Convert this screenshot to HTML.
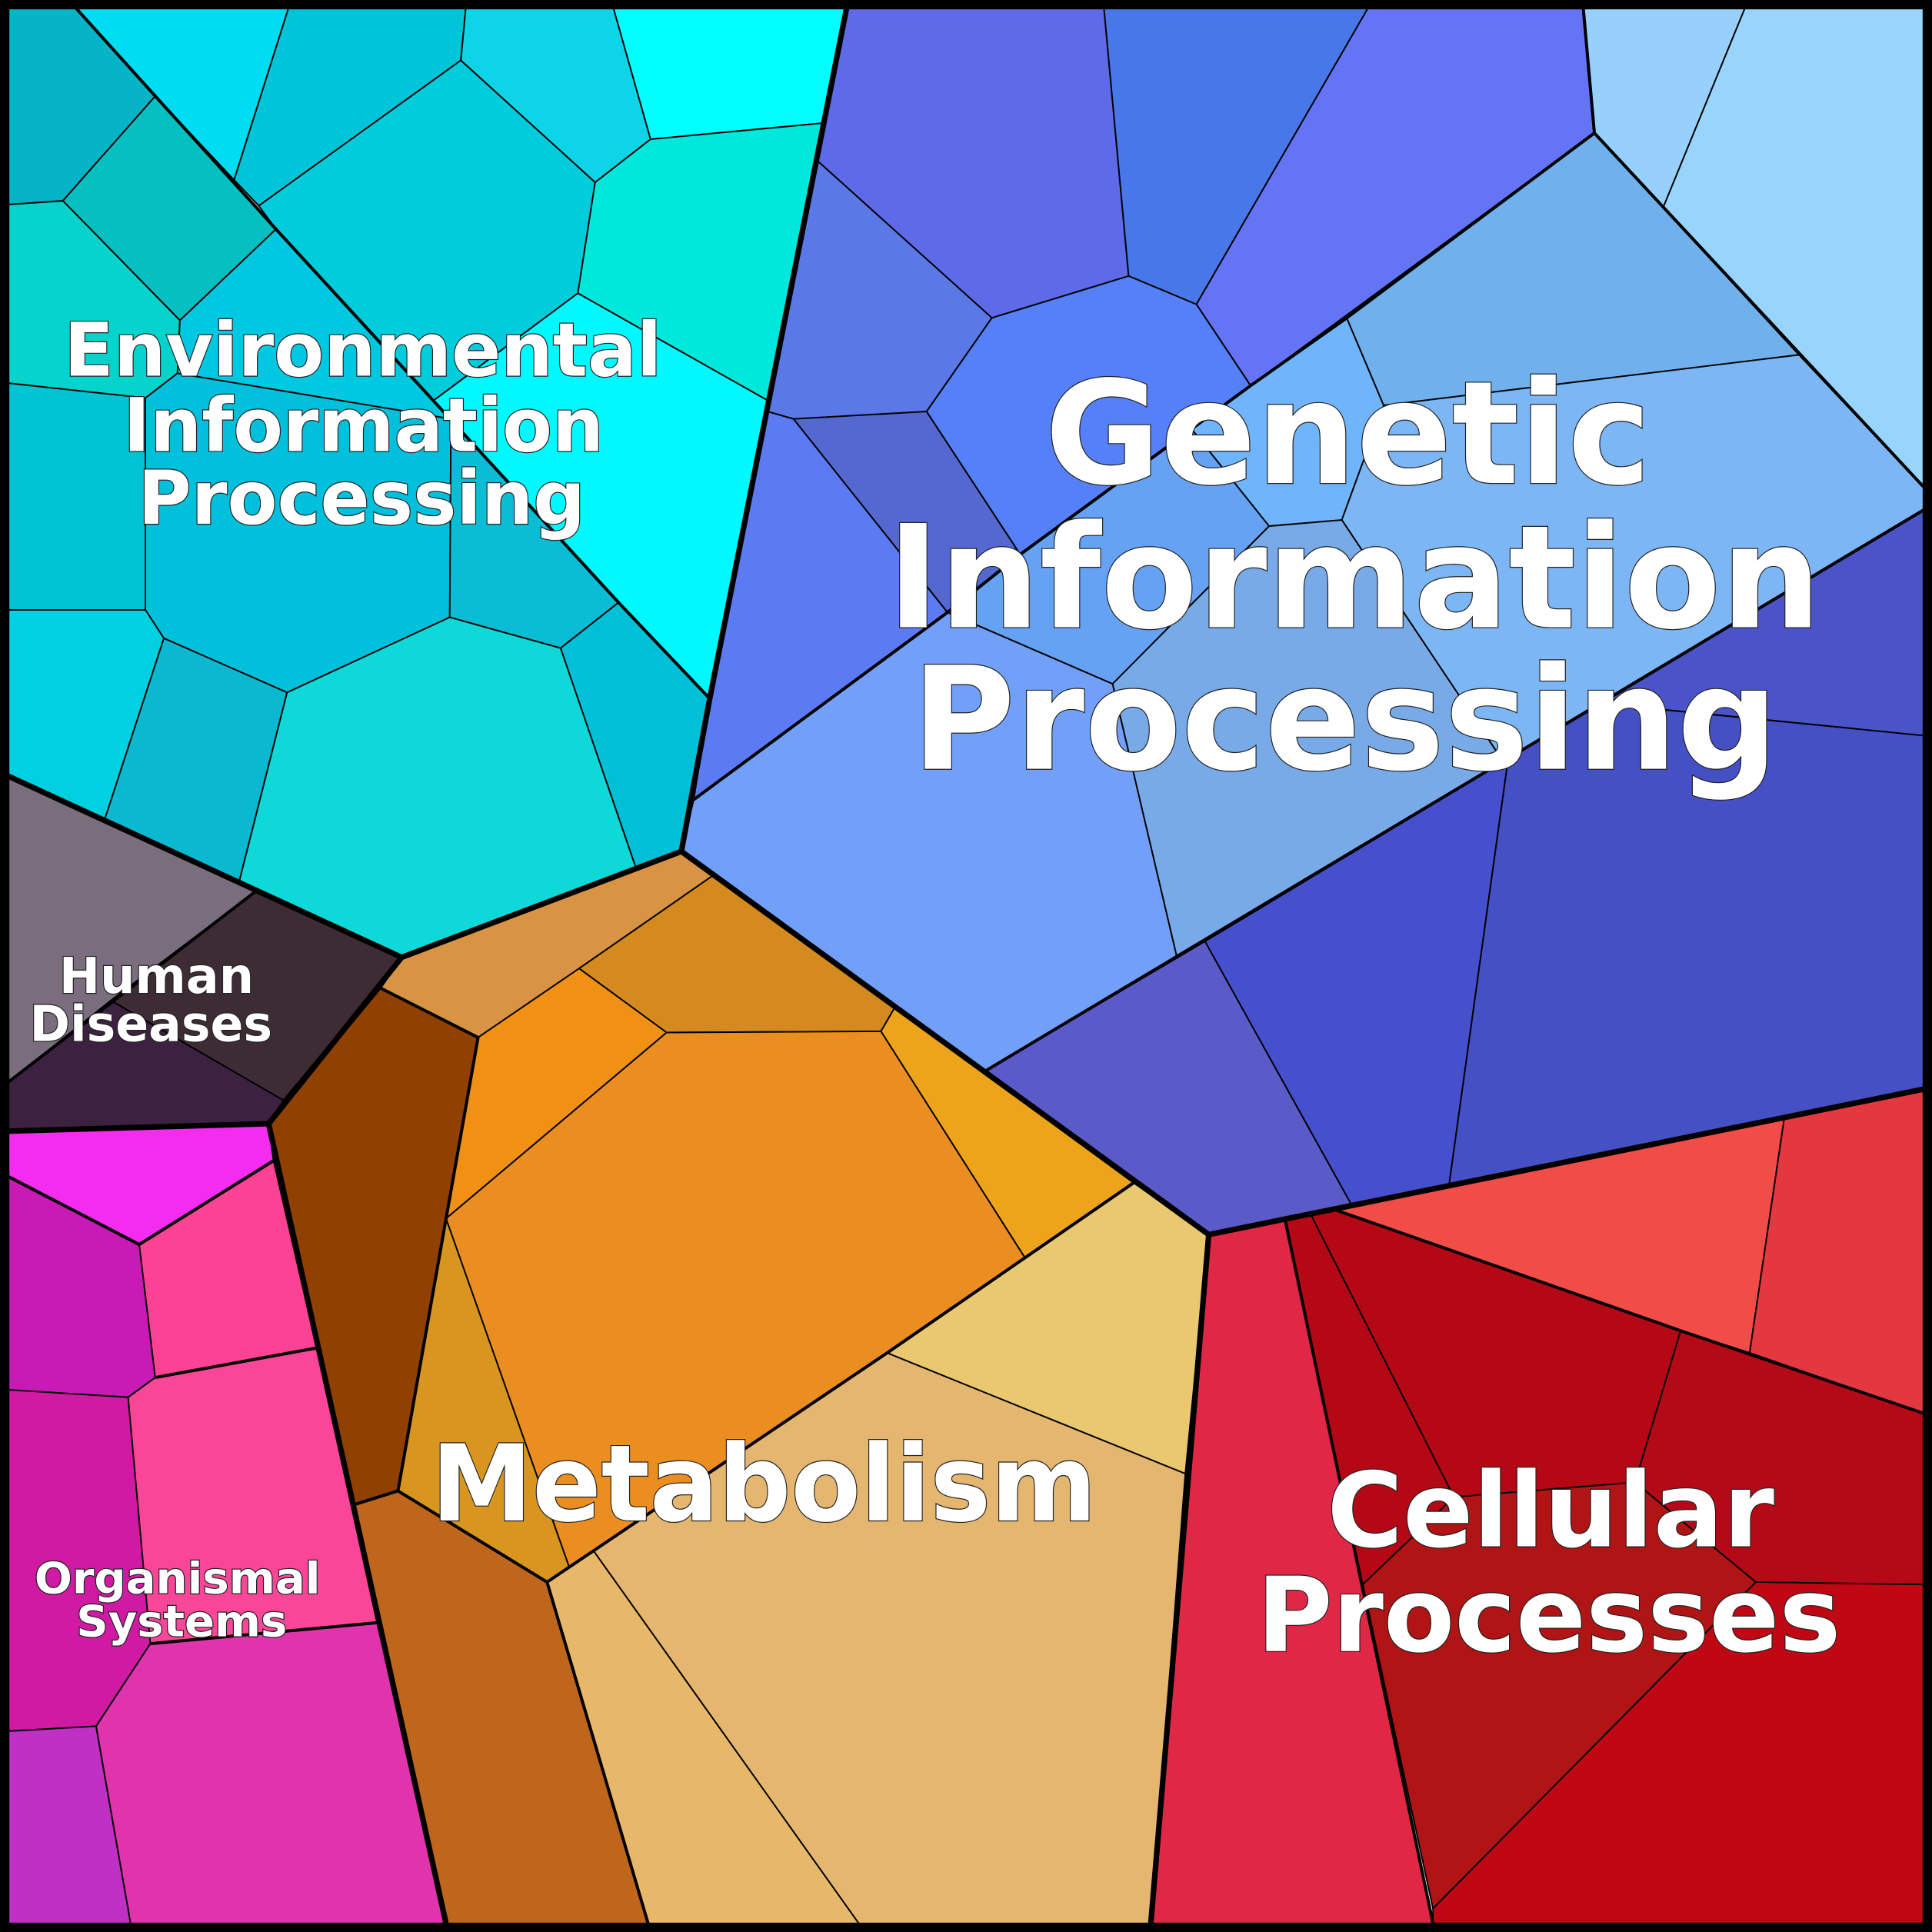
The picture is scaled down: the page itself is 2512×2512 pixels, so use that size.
<!DOCTYPE html>
<html><head><meta charset="utf-8"><style>html,body{margin:0;padding:0;background:#fff}svg{display:block}</style></head>
<body>
<svg width="2512" height="2512" viewBox="0 0 1568 1568" xmlns="http://www.w3.org/2000/svg">
<g stroke="#000" stroke-width="1.2" stroke-linejoin="round">
<!-- Environmental -->
<polygon fill="#06b4c8" points="7,7 62,7 126,78 51,163 7,166"/>
<polygon fill="#05bfc0" points="51,163 126,78 224,186 146,260"/>
<polygon fill="#06d4cc" points="7,166 51,163 146,260 144,303 118,323 7,311"/>
<polygon fill="#00dcf2" points="62,7 234,7 190,146 126,78"/>
<polygon fill="#00c4d8" points="234,7 378,7 374,49 210,167 190,146"/>
<polygon fill="#0ed4e8" points="378,7 498,7 528,113 483,148 374,49"/>
<polygon fill="#00ffff" points="498,7 687,7 667,100 528,113"/>
<polygon fill="#00ccdc" points="210,167 374,49 483,148 469,238 352,325 224,186"/>
<polygon fill="#00e8dc" points="528,113 667,100 623,325 469,238 483,148"/>
<polygon fill="#00f8ff" points="469,238 623,325 576,567 502,489 352,325"/>
<polygon fill="#00c8e0" points="146,260 224,186 366,340 144,303"/>
<polygon fill="#00c0dc" points="118,323 144,303 366,340 365,501 233,562 133,518 118,495"/>
<polygon fill="#00c4d4" points="7,311 118,323 118,495 7,495"/>
<polygon fill="#0abcd4" points="366,340 502,489 455,526 365,501"/>
<polygon fill="#00d0e0" points="7,495 118,495 133,518 85,665 7,630"/>
<polygon fill="#0ab8d0" points="133,518 233,562 194,716 85,665"/>
<polygon fill="#0ed8d8" points="233,562 365,501 455,526 516,704 326,777 194,716"/>
<polygon fill="#00c0d8" points="455,526 502,489 576,567 553,691 516,704"/>
<!-- Genetic -->
<polygon fill="#5e6ae8" points="687,7 896,7 916,224 805,258 664,131"/>
<polygon fill="#4878e8" points="896,7 1110,7 971,247 916,224"/>
<polygon fill="#6474f4" points="1110,7 1285,7 1294,108 1015,313 971,247"/>
<polygon fill="#5a78e6" points="664,131 805,258 752,334 644,340 623,334"/>
<polygon fill="#5580f8" points="805,258 916,224 971,247 1015,313 828,450 752,334"/>
<polygon fill="#5c7af2" points="623,334 644,340 769,497 563,649 576,567"/>
<polygon fill="#5468d0" points="644,340 752,334 828,450 769,497"/>
<polygon fill="#72a0f8" points="563,649 769,497 903,555 955,776 800,869 553,691"/>
<polygon fill="#66a2f4" points="828,450 967,348 1030,427 903,555 769,497"/>
<polygon fill="#70b4fc" points="967,348 1015,313 1093,258 1123,329 1089,422 1030,427"/>
<polygon fill="#70b0ec" points="1093,258 1294,108 1460,288 1123,329"/>
<polygon fill="#98d0fc" points="1285,7 1416,7 1350,168 1294,108"/>
<polygon fill="#98d4fc" points="1416,7 1561,7 1561,395 1350,168"/>
<polygon fill="#7cb6f4" points="1123,329 1460,288 1561,395 1561,414 1220,618 1089,422"/>
<polygon fill="#78aae8" points="1030,427 1089,422 1220,618 955,776 903,555"/>
<polygon fill="#5a5ac8" points="800,869 978,764 1097,978 981,1002"/>
<polygon fill="#4650cc" points="978,764 1224,616 1176,962 1097,978"/>
<polygon fill="#4a54c8" points="1300,571 1561,414 1561,597"/>
<polygon fill="#4450c4" points="1224,616 1300,571 1561,597 1561,884 1176,962"/>
<!-- Human diseases -->
<polygon fill="#7a6e7e" points="7,630 208,723 90,812 7,878"/>
<polygon fill="#3e2c34" points="208,723 326,777 230,893 90,812"/>
<polygon fill="#3c2240" points="7,878 90,812 230,893 218,912 7,918"/>
<!-- Organismal -->
<polygon fill="#f42cf0" points="7,918 218,912 222,942 113,1010 7,955"/>
<polygon fill="#c81ab4" points="7,955 113,1010 126,1118 104,1134 7,1128"/>
<polygon fill="#fc4294" points="113,1010 222,942 257,1094 126,1118"/>
<polygon fill="#d01aa4" points="7,1128 104,1134 122,1334 78,1401 7,1405"/>
<polygon fill="#fa4698" points="104,1134 126,1118 257,1094 306,1317 122,1334"/>
<polygon fill="#c030c4" points="7,1405 78,1401 106,1561 7,1561"/>
<polygon fill="#e034ac" points="78,1401 122,1334 306,1317 362,1561 106,1561"/>
<!-- Metabolism -->
<polygon fill="#d89444" points="326,777 553,691 578,711 470,786 388,842 309,802"/>
<polygon fill="#904000" points="309,802 388,842 323,1210 288,1221 218,912"/>
<polygon fill="#d48a1e" points="578,711 726,818 715,837 541,838 470,786"/>
<polygon fill="#f09014" points="388,842 470,786 541,838 362,989"/>
<polygon fill="#ea8e22" points="362,989 541,838 715,837 832,1021 720,1098 482,1259 462,1272"/>
<polygon fill="#eea41a" points="715,837 726,818 920,960 832,1021"/>
<polygon fill="#d89620" points="362,989 462,1272 444,1284 323,1210"/>
<polygon fill="#c0661c" points="288,1221 323,1210 444,1284 526,1561 362,1561"/>
<polygon fill="#e8b86a" points="444,1284 482,1259 697,1561 526,1561"/>
<polygon fill="#e4b670" points="482,1259 720,1098 962,1196 934,1561 697,1561"/>
<polygon fill="#eac870" points="720,1098 832,1021 920,960 981,1002 962,1196"/>
<!-- Cellular -->
<polygon fill="#e02846" points="981,1002 1043,990 1163,1561 934,1561"/>
<polygon fill="#b40814" points="1043,990 1064,986 1180,1215 1106,1286"/>
<polygon fill="#b40814" points="1064,986 1084,982 1364,1080 1327,1203 1180,1215"/>
<polygon fill="#f04c48" points="1084,982 1448,908 1420,1098 1364,1080"/>
<polygon fill="#e43840" points="1448,908 1561,884 1561,1147 1420,1098"/>
<polygon fill="#b40a18" points="1364,1080 1420,1098 1561,1147 1561,1286 1425,1284 1327,1203"/>
<polygon fill="#b01414" points="1106,1286 1180,1215 1327,1203 1425,1284 1163,1549"/>
<polygon fill="#c00814" points="1163,1549 1425,1284 1561,1286 1561,1561 1163,1561"/>
</g>
<!-- medium boundaries -->
<g fill="none" stroke="#000" stroke-width="2.5" stroke-linejoin="round">
<polyline points="62,7 126,78 224,186 502,489 576,567"/>
<polyline points="563,649 769,497 828,450 1015,313 1093,258 1294,108 1285,7"/>
<polyline points="1294,108 1561,395"/>
<polyline points="800,869 1561,414"/>
<polyline points="1043,990 1163,1561"/>
<polyline points="1084,982 1364,1080 1561,1147"/>
<polyline points="288,1221 323,1210 444,1284 526,1561"/>
<polyline points="388,842 323,1210"/>
<polyline points="309,802 388,842"/>
<polyline points="720,1098 920,960"/>
<polyline points="444,1284 720,1098"/>
<polyline points="222,942 113,1010 7,955"/>
<polyline points="257,1094 126,1118"/>
<polyline points="306,1317 122,1334"/>
<polyline points="7,878 208,723"/>
</g>
<!-- major boundaries -->
<g fill="none" stroke="#000" stroke-width="4.5" stroke-linejoin="round">
<polyline points="687,7 576,567 553,691 326,777 7,630"/>
<polyline points="553,691 981,1002 1561,884"/>
<polyline points="326,777 218,912 7,918"/>
<polyline points="218,912 362,1561"/>
<polyline points="981,1002 934,1561"/>
</g>
<rect x="3.5" y="3.5" width="1561" height="1561" fill="none" stroke="#000" stroke-width="8"/>
<g font-family="'DejaVu Sans','Liberation Sans',sans-serif" font-weight="bold" fill="#fff" stroke="#222" stroke-width="1.5" paint-order="stroke" text-anchor="start">
<text x="52" y="305" font-size="60" textLength="485" lengthAdjust="spacingAndGlyphs">Environmental</text>
<text x="100" y="366" font-size="60" textLength="390" lengthAdjust="spacingAndGlyphs">Information</text>
<text x="112" y="425" font-size="60" textLength="363" lengthAdjust="spacingAndGlyphs">Processing</text>
<text x="848" y="392" font-size="116" textLength="492" lengthAdjust="spacingAndGlyphs">Genetic</text>
<text x="720" y="509" font-size="116" textLength="758" lengthAdjust="spacingAndGlyphs">Information</text>
<text x="740" y="624" font-size="116" textLength="703" lengthAdjust="spacingAndGlyphs">Processing</text>
<text x="350" y="1234" font-size="86" textLength="540" lengthAdjust="spacingAndGlyphs">Metabolism</text>
<text x="1077" y="1255" font-size="84" textLength="363" lengthAdjust="spacingAndGlyphs">Cellular</text>
<text x="1020" y="1340" font-size="84" textLength="474" lengthAdjust="spacingAndGlyphs">Processes</text>
<text x="48" y="806" font-size="40" textLength="158" lengthAdjust="spacingAndGlyphs">Human</text>
<text x="24" y="845" font-size="40" textLength="197" lengthAdjust="spacingAndGlyphs">Diseases</text>
<text x="28" y="1293" font-size="35" textLength="232" lengthAdjust="spacingAndGlyphs">Organismal</text>
<text x="62" y="1328" font-size="35" textLength="171" lengthAdjust="spacingAndGlyphs">Systems</text>
</g>
</svg>
</body></html>
